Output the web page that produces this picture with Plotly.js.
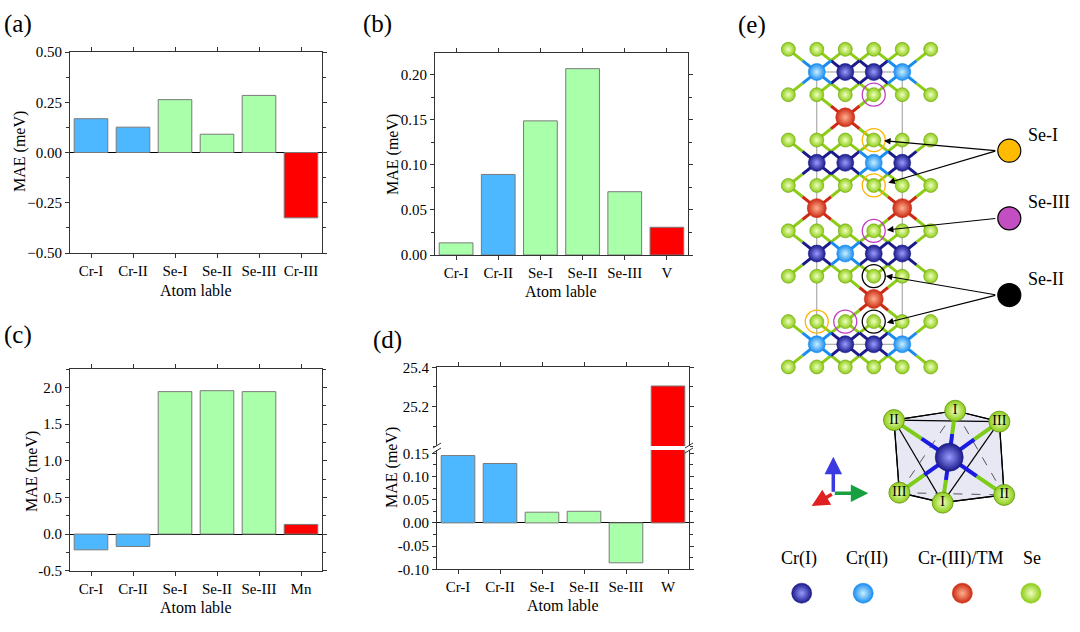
<!DOCTYPE html>
<html>
<head>
<meta charset="utf-8">
<script src="https://cdn.plot.ly/plotly-3.0.1.min.js"></script>
<style>
  html, body { margin: 0; padding: 0; background: #ffffff; }
  #fig { width: 1080px; height: 632px; }
</style>
</head>
<body>
<div id="fig"></div>
<script>
// ---- bar chart data ----
const labelsA = ['Cr-I', 'Cr-II', 'Se-I', 'Se-II', 'Se-III', 'Cr-III'];
const maeA = [0.168, 0.126, 0.263, 0.091, 0.284, -0.325];
const labelsB = ['Cr-I', 'Cr-II', 'Se-I', 'Se-II', 'Se-III', 'V'];
const maeB = [0.0135, 0.0895, 0.149, 0.207, 0.0703, 0.0308];
const labelsC = ['Cr-I', 'Cr-II', 'Se-I', 'Se-II', 'Se-III', 'Mn'];
const maeC = [-0.215, -0.17, 1.945, 1.958, 1.945, 0.132];
const labelsD = ['Cr-I', 'Cr-II', 'Se-I', 'Se-II', 'Se-III', 'W'];
const maeD = [0.145, 0.128, 0.023, 0.025, -0.086, 25.305];

const ticksC = [-0.5, 0, 0.5, 1, 1.5, 2];
const tickTextC = ['-0.5', '0.0', '0.5', '1.0', '1.5', '2.0'];
const ticksD = [-0.1, -0.05, 0, 0.05, 0.1, 0.15];
const tickTextD = ['-0.10', '-0.05', '0.00', '0.05', '0.10', '0.15'];
const ticksDup = [25.2, 25.4];

// ---- structure (e): lattice columns / layers ----
const seCols = [0, 1, 2, 3, 4, 5];
const seLevels = [0, 2, 4, 6, 8, 10, 12, 14];
const crLevels = [1, 5, 9, 13];
const crCols = [1, 2, 3, 4];
const crKinds = [            // 1 = Cr(I) dark, 2 = Cr(II) light
    [2, 1, 1, 2],
    [1, 1, 2, 1],
    [1, 2, 1, 1],
    [2, 1, 1, 2]];
const tmCols = [2, 1, 4, 3];
const tmLevels = [3, 7, 7, 11];
const cellCols = [1, 4];
const cellLevels = [1, 13];
const ringCols = [3, 3, 3, 3, 3, 3, 1, 2];
const ringLevels = [2, 4, 6, 8, 10, 12, 12, 12];
const ringKinds = ['Se-III', 'Se-I', 'Se-I', 'Se-III', 'Se-II', 'Se-II', 'Se-I', 'Se-III'];
const keyNames = ['Se-I', 'Se-III', 'Se-II'];
const keyLevels = [4.47, 7.45, 10.83];
const keyCol = 7.76;
const arrowKinds = ['Se-I', 'Se-I', 'Se-III', 'Se-II', 'Se-II'];
const arrowTipX = [3.36, 3.51, 3.46, 3.42, 3.46];
const arrowTipY = [4.03, 5.88, 7.96, 9.99, 12.05];

// octahedron (e, lower)
const octCenter = [5.65, 17.98];
const octNames = ['II', 'I', 'III', 'II', 'I', 'III'];
const octX = [3.71, 5.86, 7.41, 7.58, 5.42, 3.90];
const octY = [16.34, 15.93, 16.41, 19.64, 19.98, 19.54];
const octSolid = [[0, 1], [1, 2], [0, 2], [0, 4], [2, 4], [0, 5], [2, 3], [5, 4], [4, 3]];
const octDashed = [[1, 5], [1, 3], [5, 3]];

// legend (e, bottom)
const legNames = ['Cr(I)', 'Cr(II)', 'Cr-(III)/TM', 'Se'];
const legLabelX = [0.38, 2.75, 6.05, 8.57];
const legBallX = [0.47, 2.63, 6.11, 8.52];
const legLabelY = 22.42;
const legBallY = 23.97;

// ---- styles ----
const BLUE = '#4db8ff', GREEN = '#aaffaa', RED = '#ff0000';
const colorsA = [BLUE, BLUE, GREEN, GREEN, GREEN, RED];
const colorsB = [GREEN, BLUE, GREEN, GREEN, GREEN, RED];
const colorsC = [BLUE, BLUE, GREEN, GREEN, GREEN, RED];
const colorsD = [BLUE, BLUE, GREEN, GREEN, GREEN, RED];
const atomColor = { cr1: '#1a1a8a', cr2: '#1a8cf0', tm: '#cc2a12', se: '#8ccc16' };
const atomGlow = { cr1: '#9a9aff', cr2: '#c8f0ff', tm: '#ffb090', se: '#f0ffc0' };
const ringColor = { 'Se-I': '#ffb300', 'Se-III': '#c03cc0', 'Se-II': '#000000' };
const keyColor = { 'Se-I': '#ffbb00', 'Se-III': '#c24ec2', 'Se-II': '#000000' };
const FONT = 'Liberation Serif, Times New Roman, serif';
const W = 1080, H = 632;

function bx(p) { return p / W; }
function by(p) { return 1 - p / H; }

function barTrace(xs, ys, cols, xa, ya) {
    return {
        type: 'bar', x: xs, y: ys, xaxis: xa, yaxis: ya, width: 0.8,
        marker: { color: cols, line: { color: '#7a7a7a', width: 1 } },
        hoverinfo: 'skip', showlegend: false,
    };
}

let data = [
    barTrace(labelsA, maeA, colorsA, 'x', 'y'),
    barTrace(labelsB, maeB, colorsB, 'x2', 'y2'),
    barTrace(labelsC, maeC, colorsC, 'x3', 'y3'),
    barTrace(labelsD, maeD, colorsD, 'x4', 'y4'),
    barTrace(labelsD, maeD, colorsD, 'x6', 'y5'),
];

// ---- structure traces ----
function lineTrace(xs, ys, color, width, dash) {
    return {
        type: 'scatter', mode: 'lines', x: xs, y: ys, xaxis: 'x7', yaxis: 'y7',
        line: { color: color, width: width, dash: dash || 'solid' },
        hoverinfo: 'skip', showlegend: false,
    };
}
function ballTrace(xs, ys, color, glow, size, lineCol) {
    return {
        type: 'scatter', mode: 'markers', x: xs, y: ys, xaxis: 'x7', yaxis: 'y7',
        marker: { color: color, size: size, gradient: { type: 'radial', color: glow },
            line: { color: lineCol || color, width: 0.6 } },
        hoverinfo: 'skip', showlegend: false,
    };
}

// unit cell
let cellX = [], cellY = [];
cellCols.forEach(c => { cellX.push(c, c, null); cellY.push(cellLevels[0], cellLevels[1], null); });
cellLevels.forEach(l => { cellX.push(cellCols[0], cellCols[1], null); cellY.push(l, l, null); });
data.push(lineTrace(cellX, cellY, '#9a9a9a', 1));

// metal list
let metals = [];
crLevels.forEach((l, i) => crCols.forEach((c, j) => metals.push({ c: c, l: l, k: crKinds[i][j] === 1 ? 'cr1' : 'cr2' })));
tmCols.forEach((c, i) => metals.push({ c: c, l: tmLevels[i], k: 'tm' }));

// bonds: each metal to the four diagonal Se neighbours
let bondSe = { x: [], y: [] };
let bondM = { cr1: { x: [], y: [] }, cr2: { x: [], y: [] }, tm: { x: [], y: [] } };
metals.forEach(m => {
    [-1, 1].forEach(dc => [-1, 1].forEach(dl => {
        const sc = m.c + dc, sl = m.l + dl;
        if (seCols.indexOf(sc) < 0 || seLevels.indexOf(sl) < 0) return;
        const mx = m.c + dc / 2, my = m.l + dl / 2;
        bondM[m.k].x.push(m.c, mx, null); bondM[m.k].y.push(m.l, my, null);
        bondSe.x.push(mx, sc, null); bondSe.y.push(my, sl, null);
    }));
});
data.push(lineTrace(bondSe.x, bondSe.y, atomColor.se, 3));
['cr1', 'cr2', 'tm'].forEach(k => data.push(lineTrace(bondM[k].x, bondM[k].y, atomColor[k], 3)));

// atoms
let seX = [], seY = [];
seLevels.forEach(l => seCols.forEach(c => { seX.push(c); seY.push(l); }));
data.push(ballTrace(seX, seY, atomColor.se, atomGlow.se, 14, '#6f9e10'));
['cr1', 'cr2', 'tm'].forEach(k => {
    const ms = metals.filter(m => m.k === k);
    data.push(ballTrace(ms.map(m => m.c), ms.map(m => m.l), atomColor[k], atomGlow[k], k === 'tm' ? 19 : 17));
});

// highlight rings
keyNames.forEach(n => {
    const idx = ringKinds.map((k, i) => k === n ? i : -1).filter(i => i >= 0);
    data.push({
        type: 'scatter', mode: 'markers', xaxis: 'x7', yaxis: 'y7',
        x: idx.map(i => ringCols[i]), y: idx.map(i => ringLevels[i]),
        marker: { symbol: 'circle-open', size: 23, color: ringColor[n], line: { width: 1.3 } },
        hoverinfo: 'skip', showlegend: false,
    });
});
// key circles
data.push({
    type: 'scatter', mode: 'markers', xaxis: 'x7', yaxis: 'y7',
    x: keyNames.map(() => keyCol), y: keyLevels,
    marker: { size: 23, color: keyNames.map(n => keyColor[n]), line: { color: '#000', width: 1.2 } },
    hoverinfo: 'skip', showlegend: false,
});

// octahedron
let polyX = octX.concat([octX[0]]), polyY = octY.concat([octY[0]]);
data.push({
    type: 'scatter', mode: 'lines', x: polyX, y: polyY, xaxis: 'x7', yaxis: 'y7',
    fill: 'toself', fillcolor: '#e8e8f4', line: { color: '#000', width: 1.2 },
    hoverinfo: 'skip', showlegend: false,
});
function edgeLists(pairs) {
    let xs = [], ys = [];
    pairs.forEach(p => { xs.push(octX[p[0]], octX[p[1]], null); ys.push(octY[p[0]], octY[p[1]], null); });
    return [xs, ys];
}
let es = edgeLists(octSolid), ed = edgeLists(octDashed);
data.push(lineTrace(es[0], es[1], '#000', 1.2));
data.push(lineTrace(ed[0], ed[1], '#555', 1, 'dash'));
let obB = { x: [], y: [] }, obG = { x: [], y: [] };
octX.forEach((x, i) => {
    const mx = (octCenter[0] + x) / 2, my = (octCenter[1] + octY[i]) / 2;
    obB.x.push(octCenter[0], mx, null); obB.y.push(octCenter[1], my, null);
    obG.x.push(mx, x, null); obG.y.push(my, octY[i], null);
});
data.push(lineTrace(obG.x, obG.y, '#7ccc18', 4));
data.push(lineTrace(obB.x, obB.y, '#1a1ae0', 4));
data.push(ballTrace([octCenter[0]], [octCenter[1]], atomColor.cr1, atomGlow.cr1, 28));
data.push({
    type: 'scatter', mode: 'markers+text', x: octX, y: octY, xaxis: 'x7', yaxis: 'y7',
    text: octNames, textposition: 'middle center',
    textfont: { family: FONT, size: 14, color: '#000' },
    marker: { color: atomColor.se, size: 21, gradient: { type: 'radial', color: atomGlow.se },
        line: { color: '#5f9010', width: 0.8 } },
    hoverinfo: 'skip', showlegend: false,
});

// legend balls
const legKinds = ['cr1', 'cr2', 'tm', 'se'];
legKinds.forEach((k, i) => data.push(ballTrace([legBallX[i]], [legBallY], atomColor[k], atomGlow[k], 20)));

// ---- layout ----
const TICKF = { family: FONT, size: 15, color: '#000' };
function yAx(domPx, range, extra) {
    return Object.assign({
        domain: [by(domPx[1]), by(domPx[0])], range: range, fixedrange: true,
        showline: true, linecolor: '#333', linewidth: 1, mirror: 'ticks',
        ticks: 'outside', ticklen: 4, tickcolor: '#333',
        minor: { ticks: 'outside', ticklen: 3, tickcolor: '#333' },
        showgrid: false, zeroline: true, zerolinecolor: '#000', zerolinewidth: 1,
        tickfont: TICKF,
    }, extra);
}
function xAx(domPx, anchor, extra) {
    return Object.assign({
        domain: [bx(domPx[0]), bx(domPx[1])], anchor: anchor, range: [-0.5, 5.5], fixedrange: true,
        type: 'category',
        showline: true, linecolor: '#333', linewidth: 1, mirror: 'ticks',
        ticks: 'outside', ticklen: 4, tickcolor: '#333', showgrid: false,
        tickfont: TICKF,
    }, extra);
}
function minorAx(extra) {
    return Object.assign({ ticks: 'outside', ticklen: 3, tickcolor: '#333' }, extra);
}

const layout = {
    width: W, height: H, margin: { l: 0, r: 0, t: 0, b: 0, pad: 0 },
    paper_bgcolor: '#ffffff', plot_bgcolor: 'rgba(0,0,0,0)', showlegend: false,
    bargap: 0.2,
    xaxis: xAx([70, 322], 'y'),
    yaxis: yAx([52, 253], [-0.5, 0.5], { anchor: 'x', dtick: 0.25, tickformat: '.2f', minor: minorAx({ dtick: 0.125 }) }),
    xaxis2: xAx([435, 688], 'y2'),
    yaxis2: yAx([53, 255], [0, 0.2244], { anchor: 'x2', dtick: 0.05, tickformat: '.2f', minor: minorAx({ dtick: 0.025 }) }),
    xaxis3: xAx([70, 322], 'y3'),
    yaxis3: yAx([369.3, 570.7], [-0.5, 2.25], { anchor: 'x3', tickmode: 'array', tickvals: ticksC, ticktext: tickTextC, minor: minorAx({ tickmode: 'linear', tick0: 0, dtick: 0.25 }) }),
    xaxis4: xAx([437, 689], 'y4', { mirror: false }),
    yaxis4: yAx([450, 569.3], [-0.1, 0.157], { anchor: 'x4', tickmode: 'array', tickvals: ticksD, ticktext: tickTextD, minor: minorAx({ tickmode: 'linear', tick0: 0, dtick: 0.025 }) }),
    yaxis5: yAx([367.3, 446], [25.0, 25.4], { anchor: 'x6', tickmode: 'array', tickvals: ticksDup, tickformat: '.1f', zeroline: false, minor: minorAx({ tickmode: 'linear', tick0: 25, dtick: 0.1 }) }),
    xaxis6: xAx([437, 689], 'y5', { side: 'top', showticklabels: false, mirror: false }),
    xaxis7: { domain: [bx(740), 1], anchor: 'y7', range: [(740 - 788.3) / 28.48, (1080 - 788.3) / 28.48], visible: false, fixedrange: true },
    yaxis7: { domain: [0, 1], anchor: 'x7', range: [(632 - 49.3) / 22.69, -49.3 / 22.69], visible: false, fixedrange: true },
    annotations: [],
    shapes: [],
};

// panel labels
const panelNames = ['(a)', '(b)', '(c)', '(d)', '(e)'];
const panelX = [18, 377, 18, 387, 752];
const panelY = [24, 24, 335, 340, 25];
panelNames.forEach((t, i) => layout.annotations.push({
    xref: 'paper', yref: 'paper', x: bx(panelX[i]), y: by(panelY[i]), text: t, showarrow: false,
    xanchor: 'center', yanchor: 'middle', font: { family: FONT, size: 25, color: '#000' },
}));

// axis titles (placed per panel)
const yTitleX = [20, 393, 32, 392];
const yTitleY = [152, 155, 472, 468];
const xTitleX = [196, 561, 196, 563];
const xTitleY = [290, 291, 607, 605];
yTitleX.forEach((xp, i) => {
    layout.annotations.push({
        xref: 'paper', yref: 'paper', x: bx(xp), y: by(yTitleY[i]), text: 'MAE (meV)', textangle: -90,
        showarrow: false, xanchor: 'center', yanchor: 'middle', font: { family: FONT, size: 16, color: '#000' },
    });
    layout.annotations.push({
        xref: 'paper', yref: 'paper', x: bx(xTitleX[i]), y: by(xTitleY[i]), text: 'Atom lable',
        showarrow: false, xanchor: 'center', yanchor: 'middle', font: { family: FONT, size: 16, color: '#000' },
    });
});

// axis break marks on (d)
[437, 689].forEach(xp => [445.5, 450.5].forEach(yp => layout.shapes.push({
    type: 'line', xref: 'paper', yref: 'paper', x0: bx(xp - 4), y0: by(yp + 2.5), x1: bx(xp + 4), y1: by(yp - 2.5),
    line: { color: '#333', width: 1 },
})));

// arrows for (e)
arrowKinds.forEach((k, i) => layout.annotations.push({
    xref: 'x7', yref: 'y7', axref: 'x7', ayref: 'y7',
    x: arrowTipX[i], y: arrowTipY[i], ax: keyCol - 0.44, ay: keyLevels[keyNames.indexOf(k)],
    showarrow: true, arrowhead: 2, arrowsize: 1.1, arrowwidth: 1.2, arrowcolor: '#000', text: '',
}));
keyNames.forEach((n, i) => layout.annotations.push({
    xref: 'x7', yref: 'y7', x: keyCol + 0.6, y: keyLevels[i] - 0.7, text: n, showarrow: false,
    xanchor: 'left', yanchor: 'middle', font: { family: FONT, size: 18, color: '#000' },
}));
// coordinate triad
const triadO = [1.58, 19.57];
const triadTips = [[1.58, 17.96, '#3a3ae0'], [2.81, 19.57, '#18a040'], [0.82, 20.13, '#e02020']];
triadTips.forEach(t => layout.annotations.push({
    xref: 'x7', yref: 'y7', axref: 'x7', ayref: 'y7', x: t[0], y: t[1], ax: triadO[0], ay: triadO[1],
    showarrow: true, arrowhead: 2, arrowsize: 1, arrowwidth: 3.5, arrowcolor: t[2], text: '',
}));
// legend labels
legNames.forEach((n, i) => layout.annotations.push({
    xref: 'x7', yref: 'y7', x: legLabelX[i], y: legLabelY, text: n, showarrow: false,
    xanchor: 'center', yanchor: 'middle', font: { family: FONT, size: 18, color: '#000' },
}));

Plotly.newPlot('fig', data, layout, { staticPlot: true, displayModeBar: false });
</script>
</body>
</html>
